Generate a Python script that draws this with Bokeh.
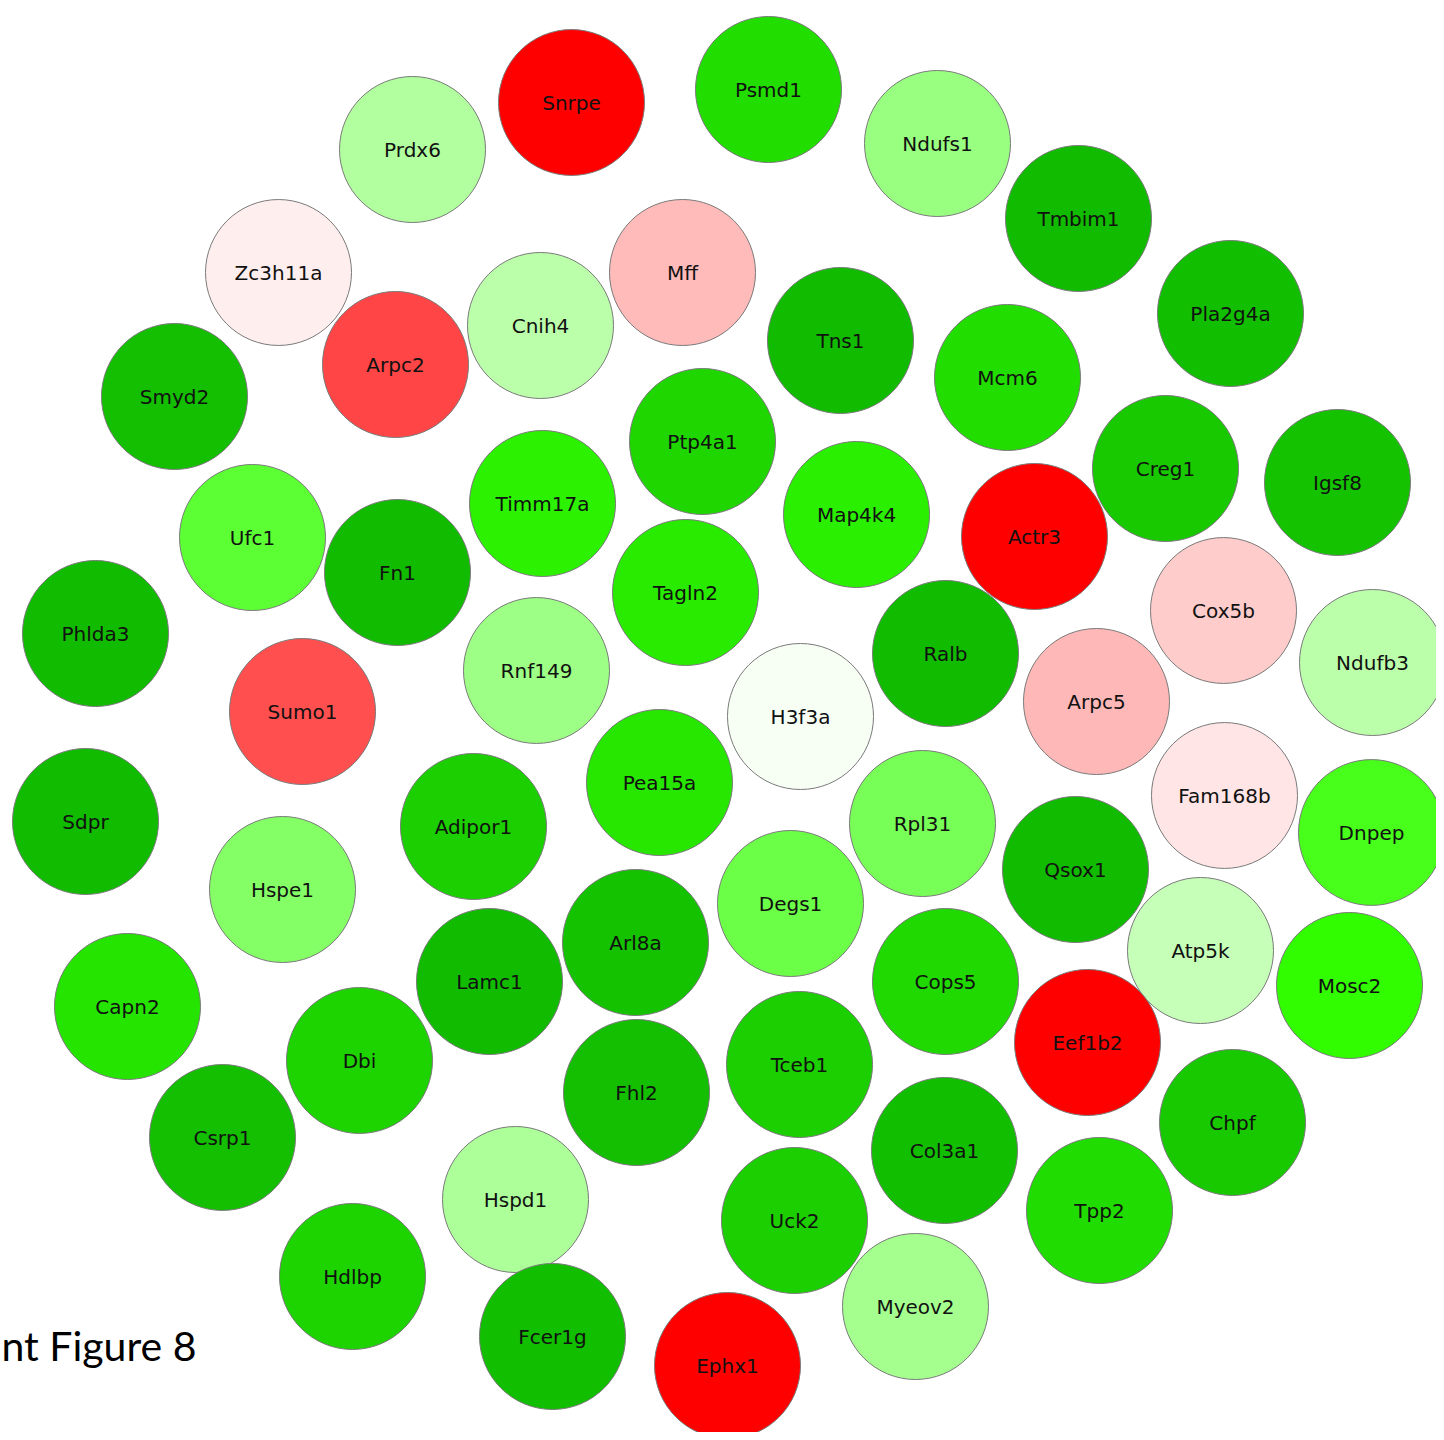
import numpy as np
from bokeh.plotting import figure
from bokeh.models import ColumnDataSource, Range1d, LinearColorMapper
from bokeh.core.properties import value
from bokeh.embed import file_html
from bokeh.resources import INLINE

# Gene nodes (network layout coordinates, in px of the original layout)
genes = ["Snrpe", "Psmd1", "Prdx6", "Ndufs1", "Tmbim1", "Zc3h11a", "Mff", "Cnih4",
         "Pla2g4a", "Tns1", "Arpc2", "Smyd2", "Mcm6", "Ptp4a1", "Creg1", "Igsf8",
         "Timm17a", "Map4k4", "Actr3", "Ufc1", "Fn1", "Tagln2", "Cox5b", "Phlda3",
         "Rnf149", "Ralb", "Ndufb3", "H3f3a", "Arpc5", "Sumo1", "Pea15a", "Adipor1",
         "Sdpr", "Rpl31", "Fam168b", "Dnpep", "Hspe1", "Qsox1", "Degs1", "Arl8a",
         "Atp5k", "Lamc1", "Cops5", "Mosc2", "Capn2", "Eef1b2", "Dbi", "Tceb1",
         "Fhl2", "Chpf", "Csrp1", "Col3a1", "Hspd1", "Tpp2", "Uck2", "Hdlbp",
         "Myeov2", "Fcer1g", "Ephx1"]
node_x = [571, 768, 412, 937, 1078, 278, 682, 540,
          1230, 840, 395, 174, 1007, 702, 1165, 1337,
          542, 856, 1034, 252, 397, 685, 1223, 95,
          536, 945, 1372, 800, 1096, 302, 659, 473,
          85, 922, 1224, 1371, 282, 1075, 790, 635,
          1200, 489, 945, 1349, 127, 1087, 359, 799,
          636, 1232, 222, 944, 515, 1099, 794, 352,
          915, 552, 727]
node_y = [102, 89, 149, 143, 218, 272, 272, 325,
          313, 340, 364, 396, 377, 441, 468, 482,
          503, 514, 536, 537, 572, 592, 610, 633,
          670, 653, 662, 716, 701, 711, 782, 826,
          821, 823, 795, 832, 889, 869, 903, 942,
          950, 981, 981, 985, 1006, 1042, 1060, 1064,
          1092, 1122, 1137, 1150, 1199, 1210, 1220, 1276,
          1306, 1336, 1365]
# expression change (negative = down / green, positive = up / red)
fold_change = [1.0, -0.75, -0.19, -0.25, -1.0, 0.067, 0.27, -0.165,
               -0.98, -1.0, 0.73, -0.97, -0.75, -0.8, -0.9, -0.95,
               -0.6, -0.62, 1.0, -0.4, -1.0, -0.65, 0.2, -1.0,
               -0.24, -1.0, -0.165, -0.02, 0.28, 0.69, -0.68, -0.85,
               -1.0, -0.33, 0.1, -0.45, -0.3, -1.0, -0.36, -0.95,
               -0.14, -1.0, -0.78, -0.52, -0.7, 1.0, -0.82, -0.85,
               -0.97, -0.9, -0.97, -0.98, -0.2, -0.76, -0.85, -0.82,
               -0.22, -0.98, 1.0]

caption = "nt Figure 8"

# diverging colour scale: dark green -> bright green -> white -> red
anchor_v = [-1.0, -0.5, 0.0, 1.0]
anchor_rgb = [(0x11, 0xBB, 0x00), (0x33, 0xFF, 0x00), (0xFF, 0xFF, 0xFF), (0xFF, 0x00, 0x00)]
grid = np.linspace(-1, 1, 401)
chans = [np.interp(grid, anchor_v, [c[i] for c in anchor_rgb]) for i in range(3)]
palette = ["#%02x%02x%02x" % (int(round(r)), int(round(g)), int(round(b)))
           for r, g, b in zip(*chans)]
mapper = LinearColorMapper(palette=palette, low=-1, high=1)

src = ColumnDataSource(dict(x=node_x, y=node_y, gene=genes, fc=fold_change))

p = figure(width=1436, height=1432, x_range=Range1d(0, 1436), y_range=Range1d(1432, 0),
           output_backend="svg", toolbar_location=None, min_border=0)
p.axis.visible = False
p.grid.visible = False
p.outline_line_color = None
p.background_fill_color = "white"
p.border_fill_color = "white"

p.circle(x="x", y="y", radius=73, source=src,
         fill_color={"field": "fc", "transform": mapper},
         line_color="#7a7a7a", line_width=1)
p.text(x="x", y="y", text="gene", source=src, text_align="center",
       text_baseline="middle", text_font=value("DejaVu Sans"),
       text_font_size="20px", text_color="#111111")

p.text(x=[1], y=[1345], text=[caption], text_align="left",
       text_baseline="middle", text_font=value("Lato"),
       text_font_size="41px", text_color="#000000")

open("out.html", "w").write(file_html(p, INLINE))
